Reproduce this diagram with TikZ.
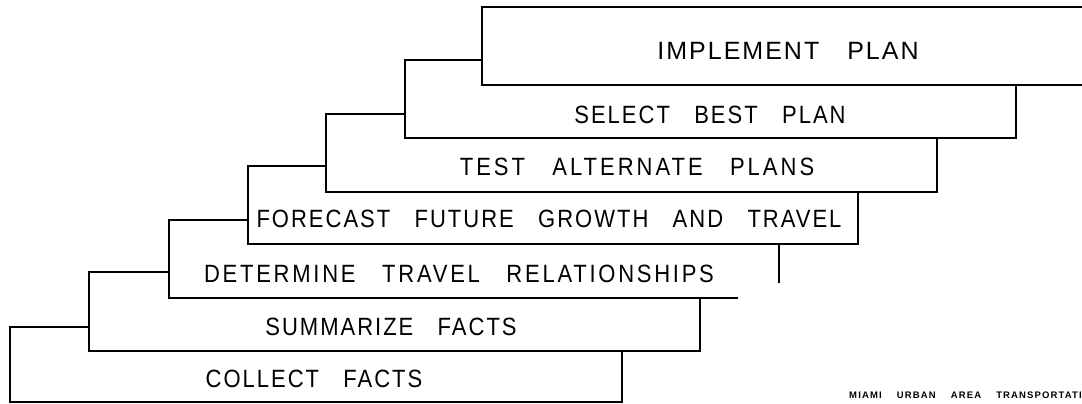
\documentclass[tikz,border=0pt]{standalone}
\usepackage{fontspec}
\newfontfamily\stagefont[FakeStretch=0.88,LetterSpace=8,WordSpace=3]{Liberation Sans}
\newfontfamily\widestagefont[LetterSpace=8,WordSpace=3]{Liberation Sans}
\newfontfamily\notefont[LetterSpace=12,WordSpace=4]{Liberation Sans}

\tikzset{
  stage/.style={font=\stagefont\fontsize{25}{30}\selectfont, inner sep=0pt},
  widestage/.style={stage, font=\widestagefont\fontsize{25}{30}\selectfont},
  note/.style={font=\notefont\bfseries\fontsize{9.5}{11}\selectfont, inner sep=0pt, anchor=west},
  frame/.style={line width=1.1pt, line join=miter}
}

\begin{document}
\begin{tikzpicture}[x=1pt,y=-1pt]

  \clip (0,0) rectangle (1082,404);

  % steps, top to bottom
  \draw[frame] (1100,7) -- (482,7) -- (482,85) -- (1100,85);
  \draw[frame] (482,60) -- (405,60) -- (405,138) -- (1016,138) -- (1016,85);
  \draw[frame] (405,114) -- (326,114) -- (326,192) -- (937,192) -- (937,138);
  \draw[frame] (326,166) -- (248,166) -- (248,244) -- (858,244) -- (858,192);
  \draw[frame] (248,220) -- (169,220) -- (169,298) -- (738,298);
  \draw[frame] (779,244) -- (779,283);
  \draw[frame] (169,272) -- (89,272) -- (89,351) -- (700,351) -- (700,298);
  \draw[frame] (89,327) -- (10,327) -- (10,402) -- (622,402) -- (622,351);

  \node[widestage] (implement) at (788,51) {IMPLEMENT\hspace{28pt}PLAN};
  \node[stage] (select) at (710,115) {SELECT BEST PLAN};
  \node[stage] (test) at (637,167) {\addfontfeature{LetterSpace=12}TEST ALTERNATE PLANS};
  \node[stage] (forecast) at (549,219) {FORECAST FUTURE GROWTH AND TRAVEL};
  \node[stage] (determine) at (459,274) {\addfontfeature{LetterSpace=11}DETERMINE TRAVEL RELATIONSHIPS};
  \node[stage] (summarize) at (391,327) {SUMMARIZE FACTS};
  \node[stage] (collect) at (314,379) {COLLECT FACTS};

  \node[note] (study) at (849,395) {MIAMI URBAN AREA TRANSPORTATION};

\end{tikzpicture}
\end{document}
